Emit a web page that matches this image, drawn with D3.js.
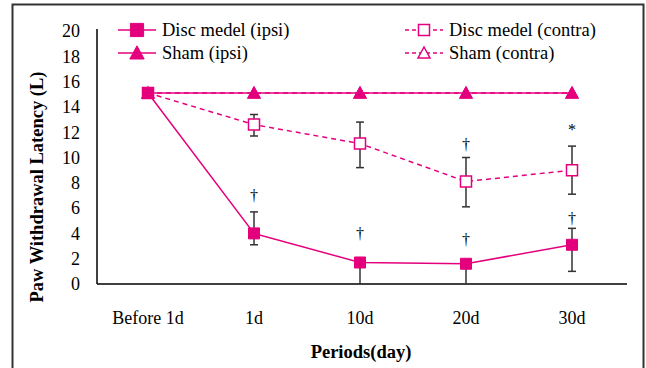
<!DOCTYPE html>
<html>
<head>
<meta charset="utf-8">
<script src="https://cdn.jsdelivr.net/npm/d3@7"></script>
<style>
  body { margin: 0; background: #fff; }
  svg text { font-family: "Liberation Serif", "DejaVu Serif", serif; }
</style>
</head>
<body>
<svg id="chart" width="646" height="368"></svg>
<script>
// chart data
var periods = ["Before 1d", "1d", "10d", "20d", "30d"];
var discIpsi = [15.1, 4.0, 1.7, 1.6, 3.1];
var discIpsiHi = [15.1, 5.7, 1.7, 1.6, 4.4];
var discIpsiLo = [15.1, 3.1, 0, 0, 1.0];
var discContra = [15.1, 12.6, 11.1, 8.1, 9.0];
var discContraHi = [15.1, 13.4, 12.8, 10.0, 10.9];
var discContraLo = [15.1, 11.7, 9.2, 6.1, 7.1];
var shamIpsi = [15.1, 15.1, 15.1, 15.1, 15.1];
var shamContra = [15.1, 15.1, 15.1, 15.1, 15.1];
var yTicks = [0, 2, 4, 6, 8, 10, 12, 14, 16, 18, 20];
// significance marks: [period index, y value, symbol]
var marks = [
  [1, 7.0, "\u2020"], [2, 4.0, "\u2020"], [3, 3.5, "\u2020"], [4, 5.2, "\u2020"],
  [3, 11.0, "\u2020"], [4, 12.2, "*"]
];

var pink = "#e4007c";
var svg = d3.select("#chart").attr("font-family", "Liberation Serif, serif");

// outer frame
svg.append("rect")
  .attr("x", 12.5).attr("y", 4.5)
  .attr("width", 631).attr("height", 380)
  .attr("fill", "none").attr("stroke", "#333").attr("stroke-width", 2);

var x = d3.scaleBand().domain(periods).range([97, 627]);
var y = d3.scaleLinear().domain([0, 20]).range([284, 31]);
var cx = function(i) { return x(periods[i]) + x.bandwidth() / 2 - 2; };

// axes lines
svg.append("line").attr("x1", 97).attr("x2", 97).attr("y1", y(20) - 2).attr("y2", y(0))
  .attr("stroke", "#000").attr("stroke-width", 1.5);
svg.append("line").attr("x1", 97).attr("x2", 627).attr("y1", y(0)).attr("y2", y(0))
  .attr("stroke", "#000").attr("stroke-width", 1.5);

svg.selectAll("text.ytick")
  .data(yTicks)
  .enter().append("text")
  .attr("class", "ytick")
  .attr("x", 80).attr("y", d => y(d))
  .attr("dy", "0.35em")
  .attr("text-anchor", "end")
  .attr("font-size", 18)
  .text(d => d);

svg.selectAll("text.xtick")
  .data(periods)
  .enter().append("text")
  .attr("class", "xtick")
  .attr("x", (d, i) => cx(i)).attr("y", 318)
  .attr("dy", "0.35em")
  .attr("text-anchor", "middle")
  .attr("font-size", 18)
  .text(d => d);

svg.append("text")
  .attr("transform", "translate(37,187) rotate(-90)")
  .attr("text-anchor", "middle")
  .attr("dy", "0.35em")
  .attr("font-size", 18.5).attr("font-weight", "bold")
  .text("Paw Withdrawal Latency (L)");

svg.append("text")
  .attr("x", 361).attr("y", 352)
  .attr("text-anchor", "middle")
  .attr("dy", "0.35em")
  .attr("font-size", 18.5).attr("font-weight", "bold")
  .text("Periods(day)");

// error bars
function errorBars(hi, lo) {
  periods.forEach(function(p, i) {
    if (i === 0) return;
    var g = svg.append("g").attr("stroke", "#333").attr("stroke-width", 1.5);
    g.append("line").attr("x1", cx(i)).attr("x2", cx(i)).attr("y1", y(hi[i])).attr("y2", y(lo[i]));
    if (y(hi[i]) < y(lo[i]) - 1 && hi[i] > lo[i]) {
      g.append("line").attr("x1", cx(i) - 4).attr("x2", cx(i) + 4).attr("y1", y(hi[i])).attr("y2", y(hi[i]));
    }
    if (lo[i] > 0) {
      g.append("line").attr("x1", cx(i) - 4).attr("x2", cx(i) + 4).attr("y1", y(lo[i])).attr("y2", y(lo[i]));
    }
  });
}
errorBars(discContraHi, discContraLo);
errorBars(discIpsiHi, discIpsiLo);

var line = d3.line().x((d, i) => cx(i)).y(d => y(d));

function series(vals, dashed, shape, filled) {
  svg.append("path").datum(vals)
    .attr("d", line)
    .attr("fill", "none").attr("stroke", pink).attr("stroke-width", 1.5)
    .attr("stroke-dasharray", dashed ? "5,4" : null);
  svg.selectAll(null).data(vals).enter().append("path")
    .attr("transform", (d, i) => "translate(" + cx(i) + "," + y(d) + ")")
    .attr("d", shapePath(shape, 1))
    .attr("fill", filled ? pink : "#fff")
    .attr("stroke", pink).attr("stroke-width", filled ? 1 : 1.5);
}
function shapePath(shape, k) {
  if (shape === "square") return "M" + (-5.5 * k) + "," + (-5.5 * k) + "h" + (11 * k) + "v" + (11 * k) + "h" + (-11 * k) + "Z";
  return "M0," + (-6 * k) + "L" + (6 * k) + "," + (5 * k) + "H" + (-6 * k) + "Z";
}

series(shamContra, true, "triangle", false);
series(discContra, true, "square", false);
series(shamIpsi, false, "triangle", true);
series(discIpsi, false, "square", true);

svg.selectAll("text.mark")
  .data(marks)
  .enter().append("text")
  .attr("class", "mark")
  .attr("x", d => cx(d[0])).attr("y", d => y(d[1]))
  .attr("dy", "0.35em")
  .attr("text-anchor", "middle")
  .attr("font-size", 16)
  .attr("fill", "#000")
  .text(d => d[2]);

// legend
var legend = [
  { label: "Disc medel (ipsi)", x: 118, y: 30, dashed: false, shape: "square", filled: true },
  { label: "Sham (ipsi)", x: 118, y: 53, dashed: false, shape: "triangle", filled: true },
  { label: "Disc medel (contra)", x: 405, y: 30, dashed: true, shape: "square", filled: false },
  { label: "Sham (contra)", x: 405, y: 53, dashed: true, shape: "triangle", filled: false }
];
legend.forEach(function(l) {
  svg.append("line").attr("x1", l.x).attr("x2", l.x + 38).attr("y1", l.y).attr("y2", l.y)
    .attr("stroke", pink).attr("stroke-width", 1.5)
    .attr("stroke-dasharray", l.dashed ? "4,3" : null);
  svg.append("path")
    .attr("transform", "translate(" + (l.x + 19) + "," + l.y + ")")
    .attr("d", shapePath(l.shape, l.filled ? 1.2 : 1))
    .attr("fill", l.filled ? pink : "#fff")
    .attr("stroke", pink).attr("stroke-width", l.filled ? 1 : 1.5);
  svg.append("text").attr("x", l.x + 44).attr("y", l.y)
    .attr("dy", "0.35em").attr("font-size", 18.5)
    .text(l.label);
});
</script>
</body>
</html>
